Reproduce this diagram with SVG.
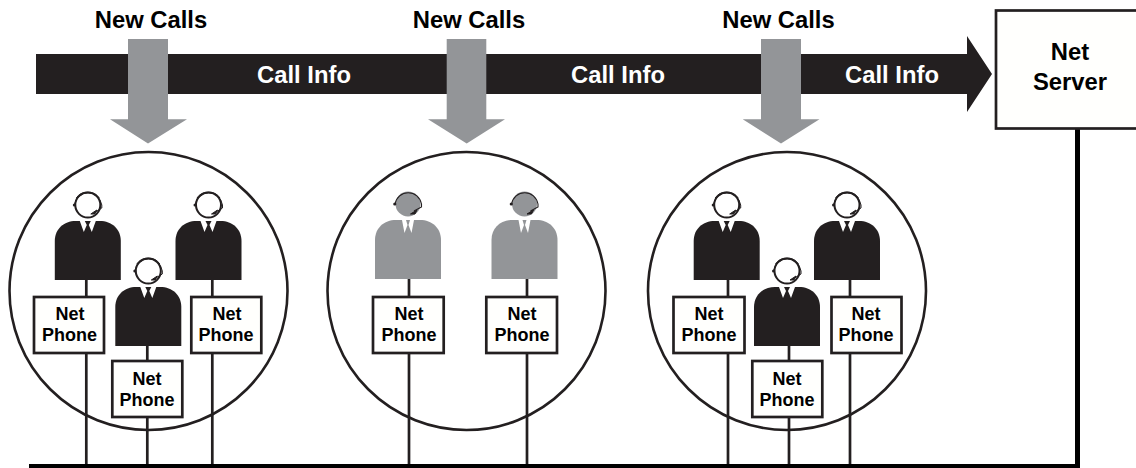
<svg xmlns="http://www.w3.org/2000/svg" width="1136" height="468" viewBox="0 0 1136 468">
<style>
text{font-family:"Liberation Sans",Arial,sans-serif;font-weight:700;text-anchor:middle}
.big{font-size:23.8px}
.small{font-size:18px}
.wire{stroke:#231f20;stroke-width:2.7;fill:none}
.bus{stroke:#000;fill:none}
.ring{fill:#fff;stroke:#231f20;stroke-width:2.6}
.box{fill:#fffffd;stroke:#231f20;stroke-width:2.7}
.down{fill:#939598}
</style>
<defs>
<g id="dark">
<path d="M-33 75V36C-33 24-24 16-12 16H12C24 16 33 24 33 36V75Z" fill="#231f20"/>
<path d="M-8 16L-4 27 -1 20 -3 16ZM8 16L4 27 1 20 3 16Z" fill="#fff"/>
<circle cx="0" cy="0" r="12.500" fill="#fff" stroke="#231f20" stroke-width="2"/>
<path d="M-13.500 0A14 15 0 0 1 14 0V3L6 8" fill="none" stroke="#231f20" stroke-width="1"/>
<path d="M-11.500 -7A13 11 0 0 1 11.500 -7" fill="none" stroke="#231f20" stroke-width="1"/>
<path d="M3 9L9 5 7 9Z" fill="#231f20" stroke="#231f20"/>
<circle cx="-13.500" cy="0" r="1.500" fill="#231f20"/>
</g>
<g id="grey">
<path d="M-33 75V36C-33 24-24 16-12 16H12C24 16 33 24 33 36V75Z" fill="#939598"/>
<path d="M-6 16L-3.500 29 -0.500 21 -2 16ZM6 16L3.500 29 0.500 21 2 16Z" fill="#fff"/>
<circle cx="0" cy="0" r="12.500" fill="#939598"/>
<path d="M-13 0A13.500 14 0 0 1 13.500 0V3L6 7" fill="none" stroke="#231f20" stroke-width="1.100"/>
<path d="M2.500 10L9 6 7 10Z" fill="#231f20" stroke="#231f20"/>
<circle cx="-13.200" cy="0" r="1.600" fill="#231f20"/>
</g>
</defs>

<g id="call-info-arrow">
<path d="M36 54H967V36L992 74 967 112V94H36Z" fill="#231f20"/>
<text class="big" x="304" y="83" fill="#fff">Call Info</text>
<text class="big" x="618" y="83" fill="#fff">Call Info</text>
<text class="big" x="892" y="83" fill="#fff">Call Info</text>
</g>

<g id="circles">
<circle id="group-1" class="ring" cx="148.500" cy="291" r="139"/>
<circle id="group-2" class="ring" cx="466.500" cy="291" r="139"/>
<circle id="group-3" class="ring" cx="787" cy="291" r="139"/>
</g>

<g id="connectors">
<path class="wire" d="M86.300 280V465M147.300 346V465M212.300 280V465"/>
<path class="wire" d="M409 279V465M527 279V465"/>
<path class="wire" d="M728 280V465M789 346V465M850 280V465"/>
<path class="bus" stroke-width="4" d="M29 466H1080"/>
<path class="bus" stroke-width="5" d="M1077.500 129V468"/>
</g>

<g id="new-calls-1">
<text class="big" x="151" y="27.700">New Calls</text>
<path class="down" d="M128 39H168V119.300H187L148 143.500 110 119.300H128Z"/>
</g>
<g id="new-calls-2">
<text class="big" x="469" y="27.700">New Calls</text>
<path class="down" d="M446.700 39H486.300V119.300H505L466.700 143.500 428 119.300H446.700Z"/>
</g>
<g id="new-calls-3">
<text class="big" x="778.500" y="27.700">New Calls</text>
<path class="down" d="M761 39H801V119.300H819.500L781 143.500 742.700 119.300H761Z"/>
</g>

<g id="server">
<rect class="box" x="996" y="10.500" width="145" height="118"/>
<text class="big" x="1070" y="60">Net</text>
<text class="big" x="1070" y="90">Server</text>
</g>

<g id="agent-1"><use href="#dark" x="87.800" y="205"/></g>
<g id="agent-2"><use href="#dark" x="148.300" y="271"/></g>
<g id="agent-3"><use href="#dark" x="208.500" y="205"/></g>
<g id="agent-4"><use href="#grey" x="408" y="204"/></g>
<g id="agent-5"><use href="#grey" x="524.500" y="204"/></g>
<g id="agent-6"><use href="#dark" x="726.700" y="205"/></g>
<g id="agent-7"><use href="#dark" x="787" y="271"/></g>
<g id="agent-8"><use href="#dark" x="847" y="205"/></g>

<g id="phone-1"><rect class="box" x="34" y="297" width="70" height="56"/><text class="small" x="70" y="320">Net</text><text class="small" x="69.500" y="341">Phone</text></g>
<g id="phone-2"><rect class="box" x="112.300" y="361" width="70" height="56"/><text class="small" x="147" y="385">Net</text><text class="small" x="147" y="406">Phone</text></g>
<g id="phone-3"><rect class="box" x="191.300" y="297" width="70" height="56"/><text class="small" x="227" y="320">Net</text><text class="small" x="226" y="341">Phone</text></g>
<g id="phone-4"><rect class="box" x="373" y="297" width="70.700" height="56"/><text class="small" x="409" y="320">Net</text><text class="small" x="409" y="341">Phone</text></g>
<g id="phone-5"><rect class="box" x="486.300" y="297" width="70.700" height="56"/><text class="small" x="522" y="320">Net</text><text class="small" x="522" y="341">Phone</text></g>
<g id="phone-6"><rect class="box" x="673.500" y="297" width="71" height="56"/><text class="small" x="709" y="320">Net</text><text class="small" x="709" y="341">Phone</text></g>
<g id="phone-7"><rect class="box" x="752.300" y="361" width="70" height="56"/><text class="small" x="787" y="385">Net</text><text class="small" x="787" y="406">Phone</text></g>
<g id="phone-8"><rect class="box" x="831.500" y="297" width="70" height="56"/><text class="small" x="866" y="320">Net</text><text class="small" x="866" y="341">Phone</text></g>
</svg>
